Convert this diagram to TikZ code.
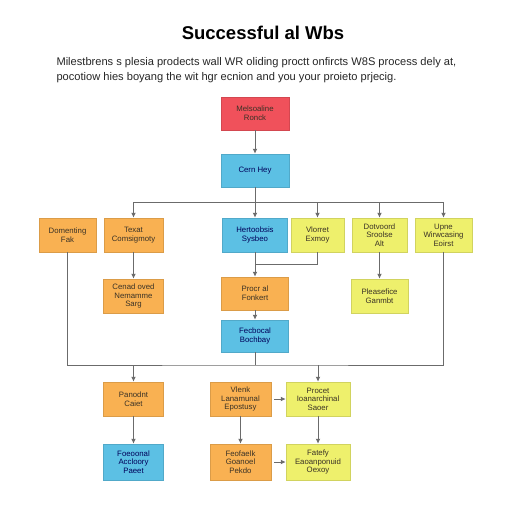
\documentclass[tikz,border=0pt]{standalone}
\usepackage{fontspec}
\setmainfont{Liberation Sans}
\usepackage{tikz}
\usetikzlibrary{positioning, calc, arrows.meta, shadows}

\definecolor{wbsred}{HTML}{F0515B}
\definecolor{wbscyan}{HTML}{5CC0E4}
\definecolor{wbsorange}{HTML}{F9B152}
\definecolor{wbsyellow}{HTML}{EEF06C}
\definecolor{wbsline}{HTML}{6B6B6B}
\definecolor{wbstext}{HTML}{3A3226}

\begin{document}
\begin{tikzpicture}[x=1pt, y=-1pt,
    card/.style={draw=#1!88!black, fill=#1, line width=0.5pt, align=center,
        minimum height=34pt, inner sep=1pt, text=wbstext,
        font=\fontsize{7.8}{8.6}\selectfont,
        drop shadow={shadow xshift=0.8pt, shadow yshift=-0.9pt, opacity=0.22}},
    link/.style={draw=wbsline, line width=0.9pt},
    arr/.style={link, -{Latex[length=5pt, width=4.8pt]}}]

    \useasboundingbox[fill=white] (0,0) rectangle (512,512);

    % --- Title & description ---
    \node (title) at (263,33) {\fontsize{18.5}{20}\selectfont\bfseries Successful al Wbs};
    \node[anchor=west, align=left, font=\fontsize{11.1}{15}\selectfont, text=black!85] (intro) at (53,70)
        {Milestbrens s plesia prodects wall WR oliding proctt onfircts W8S process dely at,\\
         pocotiow hies boyang the wit hgr ecnion and you your proieto prjecig.};

    % --- Top of the tree ---
    \node[card=wbsred, minimum width=68pt, minimum height=33pt] (root) at (255,113.5) {Melsoaline\\Ronck};
    \node[card=wbscyan, minimum width=68pt, minimum height=33pt, text=blue!35!black] (cern) at (255,170.5) {Cern Hey};

    % --- First row ---
    \node[card=wbsorange, minimum width=57pt] (dom) at (67.5,235) {Domenting\\Fak};
    \node[card=wbsorange, minimum width=59pt] (texat) at (133.5,235) {Texat\\Comsigmoty};
    \node[card=wbscyan, minimum width=65pt, text=blue!35!black] (herto) at (255,235) {Hertoobsis\\Sysbeo};
    \node[card=wbsyellow, minimum width=53pt] (vlor) at (317.5,235) {Vlorret\\Exmoy};
    \node[card=wbsyellow, minimum width=55pt] (dotv) at (379.5,235) {Dotvoord\\Sroolse\\Alt};
    \node[card=wbsyellow, minimum width=57pt] (upne) at (443.5,235) {Upne\\Wirwcasing\\Eoirst};

    % --- Second row ---
    \node[card=wbsorange, minimum width=60pt] (cenad) at (133.5,296) {Cenad oved\\Nemamme\\Sarg};
    \node[card=wbsorange, minimum width=67pt, minimum height=33pt] (procr) at (255,293.5) {Procr al\\Fonkert};
    \node[card=wbsyellow, minimum width=57pt] (pleas) at (379.5,296) {Pleasefice\\Ganmbt};
    \node[card=wbscyan, minimum width=67pt, minimum height=32pt, text=blue!35!black] (fecb) at (255,336) {Fecbocal\\Bochbay};

    % --- Lower rows ---
    \node[card=wbsorange, minimum width=60pt] (panod) at (133.5,399) {Panodnt\\Caiet};
    \node[card=wbsorange, minimum width=61pt] (vlenk) at (240.5,399) {Vlenk\\Lanamunal\\Epostusy};
    \node[card=wbsyellow, minimum width=64pt] (procet) at (318,399) {Procet\\Ioanarchinal\\Saoer};
    \node[card=wbscyan, minimum width=60pt, minimum height=36pt, text=blue!35!black] (foeo) at (133.5,462) {Foeoonal\\Accloory\\Paeet};
    \node[card=wbsorange, minimum width=61pt, minimum height=36pt] (feof) at (240.5,462) {Feofaelk\\Goanoel\\Pekdo};
    \node[card=wbsyellow, minimum width=64pt, minimum height=36pt] (fatefy) at (318,462) {Fatefy\\Eaoanponuid\\Oexoy};

    % --- Junction points ---
    \coordinate (busA) at (255,202);
    \coordinate (joinA) at (255,264);
    \coordinate (busB) at (255,365);

    % --- Connectors ---
    \draw[arr] (root) -- (cern);
    \draw[link] (cern.south) -- (busA);
    \draw[link] (texat.north |- busA) -- (upne.north |- busA);
    \draw[arr] (busA) -- (herto.north);
    \foreach \n in {texat, vlor, dotv, upne}
        \draw[arr] (\n.north |- busA) -- (\n.north);

    \draw[arr] (texat) -- (cenad);
    \draw[arr] (dotv) -- (pleas);
    \draw[link] (vlor.south) |- (joinA);
    \draw[arr] (herto) -- (procr);
    \draw[arr] (procr) -- (fecb);

    \draw[link] (dom.south) |- (busB) -| (upne.south);
    \draw[link] (fecb.south) -- (busB);
    \draw[arr] (panod.north |- busB) -- (panod.north);
    \draw[arr] (procet.north |- busB) -- (procet.north);

    \draw[arr] (panod) -- (foeo);
    \draw[arr] (vlenk) -- (feof);
    \draw[arr] (procet) -- (fatefy);
    \draw[arr, shorten <=3pt] (vlenk) -- (procet);
    \draw[arr, shorten <=3pt] (feof) -- (fatefy);

\end{tikzpicture}
\end{document}
